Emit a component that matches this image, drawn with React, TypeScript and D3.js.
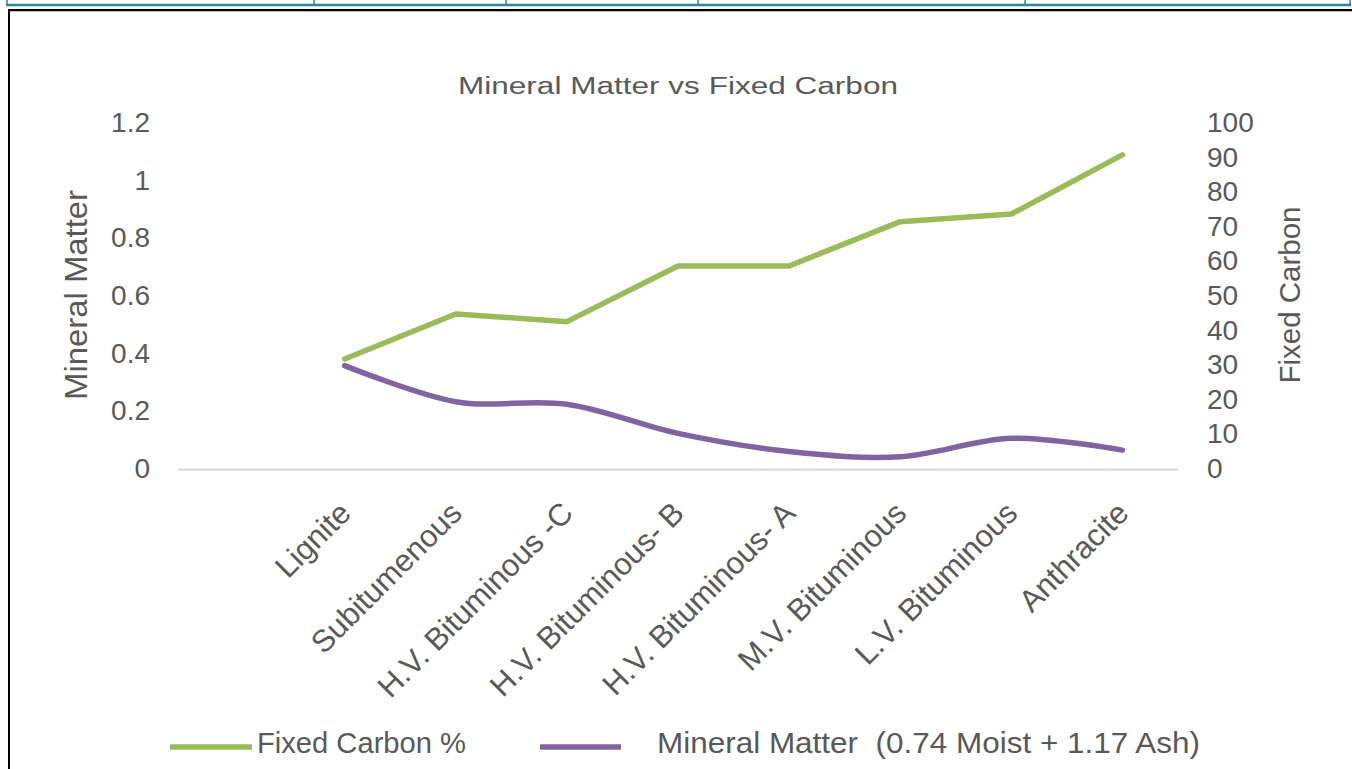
import React from "react";
import * as d3 from "d3";

// Coal rank categories (first slot is an empty category on the axis)
const categories: string[] = [
  "",
  "Lignite",
  "Subitumenous",
  "H.V. Bituminous -C",
  "H.V. Bituminous- B",
  "H.V. Bituminous- A",
  "M.V. Bituminous",
  "L.V. Bituminous",
  "Anthracite",
];

// Fixed carbon % (right axis)
const fixedCarbon: (number | null)[] = [null, 31.5, 44.5, 42.3, 58.4, 58.4, 71.2, 73.4, 90.5];

// Mineral matter = 0.74 Moist + 1.17 Ash (left axis)
const mineralMatter: (number | null)[] = [null, 0.355, 0.23, 0.221, 0.12, 0.057, 0.039, 0.103, 0.062];

const leftTicks: number[] = [0, 0.2, 0.4, 0.6, 0.8, 1, 1.2];
const rightTicks: number[] = [0, 10, 20, 30, 40, 50, 60, 70, 80, 90, 100];

const chartTitle = "Mineral Matter vs Fixed Carbon";
const leftTitle = "Mineral Matter";
const rightTitle = "Fixed Carbon";
const legendGreen = "Fixed Carbon %";
const legendPurple = "Mineral Matter  (0.74 Moist + 1.17 Ash)";

const W = 1352;
const H = 769;
const GREEN = "#9BBB59";
const PURPLE = "#8064A2";
const TEXT = "#595959";
const FONT = "'Liberation Sans', Arial, sans-serif";

export default function App() {
  const x = d3
    .scaleBand<string>()
    .domain(categories.map((c, i) => String(i)))
    .range([178, 1178])
    .paddingInner(0)
    .paddingOuter(0);
  const cx = (i: number) => (x(String(i)) as number) + x.bandwidth() / 2;

  const yLeft = d3.scaleLinear().domain([0, 1.2]).range([468, 122]);
  const yRight = d3.scaleLinear().domain([0, 100]).range([468, 122]);

  const greenLine = d3
    .line<number | null>()
    .defined((d) => d != null)
    .x((_, i) => cx(i))
    .y((d) => yRight(d as number));

  const purpleLine = d3
    .line<number | null>()
    .defined((d) => d != null)
    .x((_, i) => cx(i))
    .y((d) => yLeft(d as number))
    .curve(d3.curveCatmullRom.alpha(0));

  const tableCols = [7, 314, 506, 698, 1025, 1350];

  return (
    <svg
      width={W}
      height={H}
      style={{ position: "absolute", left: 0, top: 0, background: "#fff" }}
      fontFamily={FONT}
    >
      {/* spreadsheet grid edge above the chart */}
      <line x1={6} x2={1351} y1={5} y2={5} stroke="#31849B" strokeWidth={2.5} />
      {tableCols.map((c) => (
        <line key={c} x1={c} x2={c} y1={0} y2={5} stroke="#31849B" strokeWidth={1.5} />
      ))}

      {/* chart area border */}
      <rect x={9} y={10} width={W + 20} height={H + 20} fill="#fff" stroke="#000" strokeWidth={2} />
      <line x1={10} x2={W} y1={11.5} y2={11.5} stroke="#bfbfbf" strokeWidth={1} />

      {/* title */}
      <text
        x={678}
        y={94}
        fontSize={23}
        fill={TEXT}
        textAnchor="middle"
        textLength={440}
        lengthAdjust="spacingAndGlyphs"
      >
        {chartTitle}
      </text>

      {/* category axis line */}
      <line x1={178} x2={1178} y1={469.5} y2={469.5} stroke="#d9d9d9" strokeWidth={2} />

      {/* left axis ticks */}
      {leftTicks.map((t) => (
        <text
          key={"l" + t}
          x={150}
          y={yLeft(t)}
          dy="0.36em"
          fontSize={28}
          fill={TEXT}
          textAnchor="end"
        >
          {String(t)}
        </text>
      ))}

      {/* right axis ticks */}
      {rightTicks.map((t) => (
        <text
          key={"r" + t}
          x={1207}
          y={yRight(t)}
          dy="0.36em"
          fontSize={28}
          fill={TEXT}
          textAnchor="start"
        >
          {String(t)}
        </text>
      ))}

      {/* axis titles */}
      <text
        transform="translate(87,295) rotate(-90)"
        fontSize={31}
        fill={TEXT}
        textAnchor="middle"
        textLength={210}
        lengthAdjust="spacingAndGlyphs"
      >
        {leftTitle}
      </text>
      <text
        transform="translate(1300,295) rotate(-90)"
        fontSize={29}
        fill={TEXT}
        textAnchor="middle"
        textLength={177}
        lengthAdjust="spacingAndGlyphs"
      >
        {rightTitle}
      </text>

      {/* category labels */}
      {categories.map((c, i) =>
        c ? (
          <text
            key={"c" + i}
            transform={`translate(${cx(i) + 8},${515}) rotate(-45)`}
            fontSize={31}
            fill={TEXT}
            textAnchor="end"
          >
            {c}
          </text>
        ) : null
      )}

      {/* series */}
      <path d={greenLine(fixedCarbon) || ""} fill="none" stroke={GREEN} strokeWidth={5.5} strokeLinejoin="round" strokeLinecap="round" />
      <path d={purpleLine(mineralMatter) || ""} fill="none" stroke={PURPLE} strokeWidth={5.5} strokeLinejoin="round" strokeLinecap="round" />

      {/* legend */}
      <line x1={170} x2={252} y1={747} y2={747} stroke={GREEN} strokeWidth={5.5} />
      <text x={257} y={753} fontSize={29} fill={TEXT} textLength={209} lengthAdjust="spacingAndGlyphs">
        {legendGreen}
      </text>
      <line x1={540} x2={621} y1={747} y2={747} stroke={PURPLE} strokeWidth={5.5} />
      <text x={657} y={753} fontSize={29} fill={TEXT} textLength={543} lengthAdjust="spacingAndGlyphs" style={{ whiteSpace: "pre" }}>
        {legendPurple}
      </text>
    </svg>
  );
}
